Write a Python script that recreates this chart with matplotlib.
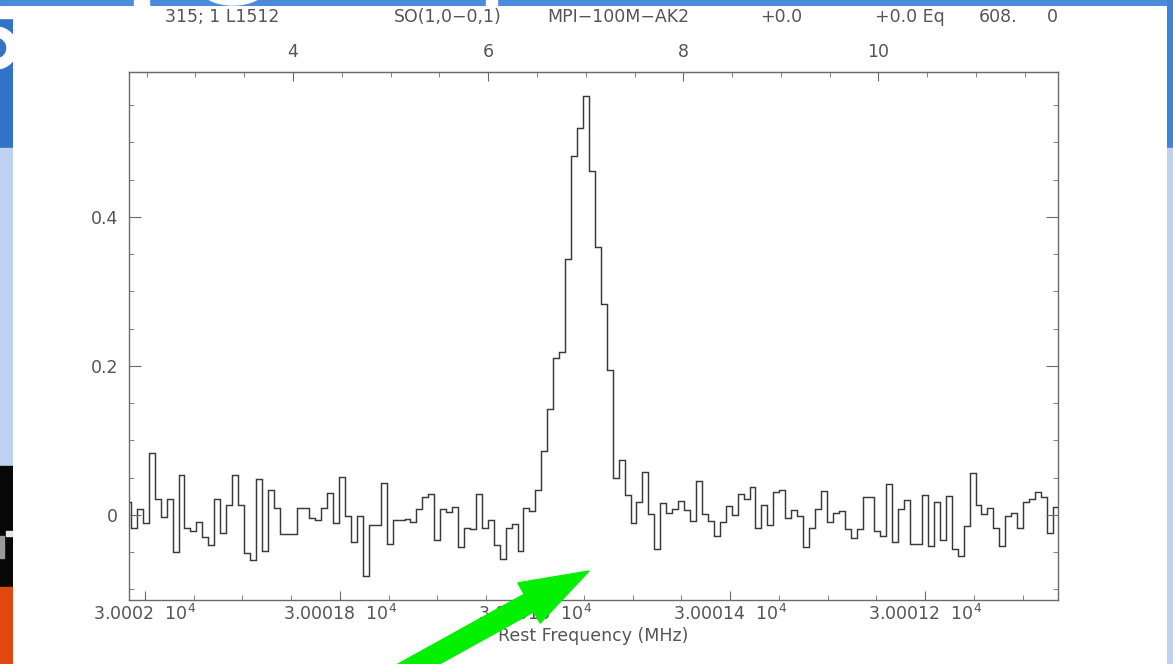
import matplotlib.pyplot as plt
import numpy as np
from matplotlib.patches import Rectangle, Ellipse, Polygon, Wedge
from matplotlib.ticker import FixedLocator, FixedFormatter, MultipleLocator

plt.rcParams['font.family'] = ['DejaVu Sans']
plt.rcParams['mathtext.fontset'] = 'dejavusans'

# SO(1,0-0,1) toward L1512, one value per channel (K)
first_edge = 30002.0205   # MHz, high-frequency edge of the first channel
chan_width = 0.0061       # MHz
spectrum = [
    0.018, -0.018, 0.008, -0.011, 0.083, 0.022, -0.003, 0.021, -0.050, 0.054,
    -0.017, -0.021, -0.010, -0.030, -0.040, 0.021, -0.024, 0.014, 0.054, 0.014,
    -0.051, -0.060, 0.048, -0.048, 0.034, 0.009, -0.026, -0.026, -0.025, 0.010,
    0.010, -0.004, -0.007, 0.009, 0.029, -0.011, 0.051, -0.001, -0.036, -0.001,
    -0.082, -0.013, -0.013, 0.043, -0.039, -0.007, -0.007, -0.005, -0.009, 0.008,
    0.024, 0.028, -0.034, 0.008, 0.004, 0.011, -0.043, -0.018, -0.019, 0.028,
    -0.017, -0.007, -0.040, -0.059, -0.018, -0.012, -0.049, 0.010, 0.006, 0.033,
    0.086, 0.142, 0.211, 0.219, 0.344, 0.482, 0.519, 0.563, 0.462, 0.360,
    0.283, 0.195, 0.050, 0.074, 0.027, -0.011, 0.018, 0.058, 0.002, -0.046,
    0.016, 0.003, 0.008, 0.019, 0.007, -0.008, 0.046, 0.002, -0.008, -0.028,
    -0.010, 0.012, 0.000, 0.028, 0.021, 0.038, -0.017, 0.013, -0.013, 0.031,
    0.034, -0.004, 0.007, -0.002, -0.043, -0.017, 0.008, 0.032, -0.009, 0.003,
    0.006, -0.019, -0.031, -0.019, 0.024, 0.024, -0.022, -0.028, 0.042, -0.036,
    0.008, 0.020, -0.039, -0.039, 0.027, -0.042, 0.017, -0.034, 0.025, -0.045,
    -0.055, -0.015, 0.056, 0.014, 0.001, 0.010, -0.017, -0.041, -0.002, 0.003,
    -0.017, 0.017, 0.022, 0.031, 0.024, -0.024, 0.011,
]

freq_ticks = [30002.0, 30001.8, 30001.6, 30001.4, 30001.2]
freq_labels = [r'3.0002  $10^4$', r'3.00018  $10^4$', r'3.00016  $10^4$',
               r'3.00014  $10^4$', r'3.00012  $10^4$']
vel_ticks = [4, 6, 8, 10]
temp_ticks = [0, 0.2, 0.4]
temp_labels = ['0', '0.2', '0.4']

header = [('315; 1 L1512', 165), ('SO(1,0\u22120,1)', 394),
          ('MPI\u2212100M\u2212AK2', 547), ('+0.0', 760),
          ('+0.0 Eq', 875), ('608.', 979), ('0', 1047)]

F_REST = 30002.2485
C_KMS = 299792.458


def f2v(f):
    return C_KMS * (F_REST - np.asarray(f)) / F_REST


def v2f(v):
    return F_REST * (1 - np.asarray(v) / C_KMS)


W, H = 1173, 664
fig = plt.figure(figsize=(W / 100, H / 100), dpi=100)
fig.patch.set_facecolor('white')

gray = '#555555'
fs = 12.5

# --- slide decoration ---
left = fig.add_axes([0, 0, 13 / W, 1])
left.set_xlim(0, 13)
left.set_ylim(H, 0)
left.axis('off')
left.add_patch(Rectangle((0, 0), 13, 148, color='#3272c8'))
left.add_patch(Rectangle((0, 148), 13, 318, color='#bcd2f0'))
left.add_patch(Rectangle((0, 466), 13, 121, color='#070707'))
left.add_patch(Rectangle((6, 531), 7, 5, color='#e8e8e8'))
left.add_patch(Rectangle((0, 536), 4, 22, color='#9a9a9a'))
left.add_patch(Rectangle((0, 587), 13, 77, color='#e0480e'))
# right-hand part of a large white title letter
left.add_patch(Rectangle((0, 6), 13, 12, color='white'))
left.add_patch(Wedge((-4, 48), 21, -90, 90, width=10, color='white'))

top = fig.add_axes([0, 1 - 6 / H, 1, 6 / H])
top.set_xlim(0, W)
top.set_ylim(6, 0)
top.axis('off')
top.add_patch(Rectangle((0, 0), W, 6, color='#4b8bdb'))
top.add_patch(Rectangle((134, 0), 15, 6, color='white'))
top.add_patch(Ellipse((233, -10), 62, 30, color='white'))
top.add_patch(Rectangle((486, 0), 11, 6, color='white'))

right = fig.add_axes([1167 / W, 0, 6 / W, 1])
right.set_xlim(0, 6)
right.set_ylim(H, 0)
right.axis('off')
right.add_patch(Rectangle((0, 0), 6, 148, color='#3f82d6'))
right.add_patch(Rectangle((0, 148), 6, H - 148, color='#bcd2f0'))

# --- spectrum ---
ax = fig.add_axes([129 / W, 1 - 600 / H, 929 / W, 528 / H])
edges = first_edge - chan_width * np.arange(len(spectrum) + 1)
ax.stairs(spectrum, edges, baseline=None, color='#3a3a3a', linewidth=1.05)
ax.set_xlim(30002.0164, 30001.0636)
ax.set_ylim(-0.1141, 0.5946)

for s in ax.spines.values():
    s.set_color('#6a6a6a')
    s.set_linewidth(1.0)

ax.xaxis.set_major_locator(FixedLocator(freq_ticks))
ax.xaxis.set_major_formatter(FixedFormatter(freq_labels))
ax.xaxis.set_minor_locator(MultipleLocator(0.05))
ax.yaxis.set_major_locator(FixedLocator(temp_ticks))
ax.yaxis.set_major_formatter(FixedFormatter(temp_labels))
ax.yaxis.set_minor_locator(MultipleLocator(0.05))

ax.tick_params(axis='x', which='both', direction='in', top=False, bottom=True,
               colors='#6a6a6a', labelcolor=gray, labelsize=fs, pad=3)
ax.tick_params(axis='x', which='major', length=6.5)
ax.tick_params(axis='x', which='minor', length=3.6)
ax.tick_params(axis='y', which='both', direction='in', left=True, right=True,
               colors='#6a6a6a', labelcolor=gray, labelsize=fs, pad=8)
ax.tick_params(axis='y', which='major', length=8.6)
ax.tick_params(axis='y', which='minor', length=3.6)

ax.set_xlabel('Rest Frequency (MHz)', color=gray, fontsize=fs, labelpad=2)

sec = ax.secondary_xaxis('top', functions=(f2v, v2f))
sec.xaxis.set_major_locator(FixedLocator(vel_ticks))
sec.xaxis.set_minor_locator(MultipleLocator(0.5))
sec.tick_params(which='both', direction='in', colors='#6a6a6a',
                labelcolor=gray, labelsize=fs, pad=8)
sec.tick_params(which='major', length=6.5)
sec.tick_params(which='minor', length=3.6)
sec.spines['top'].set_color('#6a6a6a')

for txt, xpix in header:
    fig.text(xpix / W, 1 - 17 / H, txt, color=gray, fontsize=fs,
             ha='left', va='center')

# --- green arrow pointing at the line ---
tip = np.array([589.0, 571.0])
mid = np.array([529.0, 603.0])
u = np.array([0.875, -0.484])
u /= np.linalg.norm(u)
n = np.array([-u[1], u[0]])
half_head, half_shaft = 23.0, 10.0
tail = mid - 160 * u
pts = [tip, mid + half_head * n, mid + half_shaft * n, tail + half_shaft * n,
       tail - half_shaft * n, mid - half_shaft * n, mid - half_head * n]
pts = [(p[0] / W, 1 - p[1] / H) for p in pts]
fig.add_artist(Polygon(pts, closed=True, color='#00f000',
                       transform=fig.transFigure, zorder=10))

fig.savefig('out.png', dpi=100)
